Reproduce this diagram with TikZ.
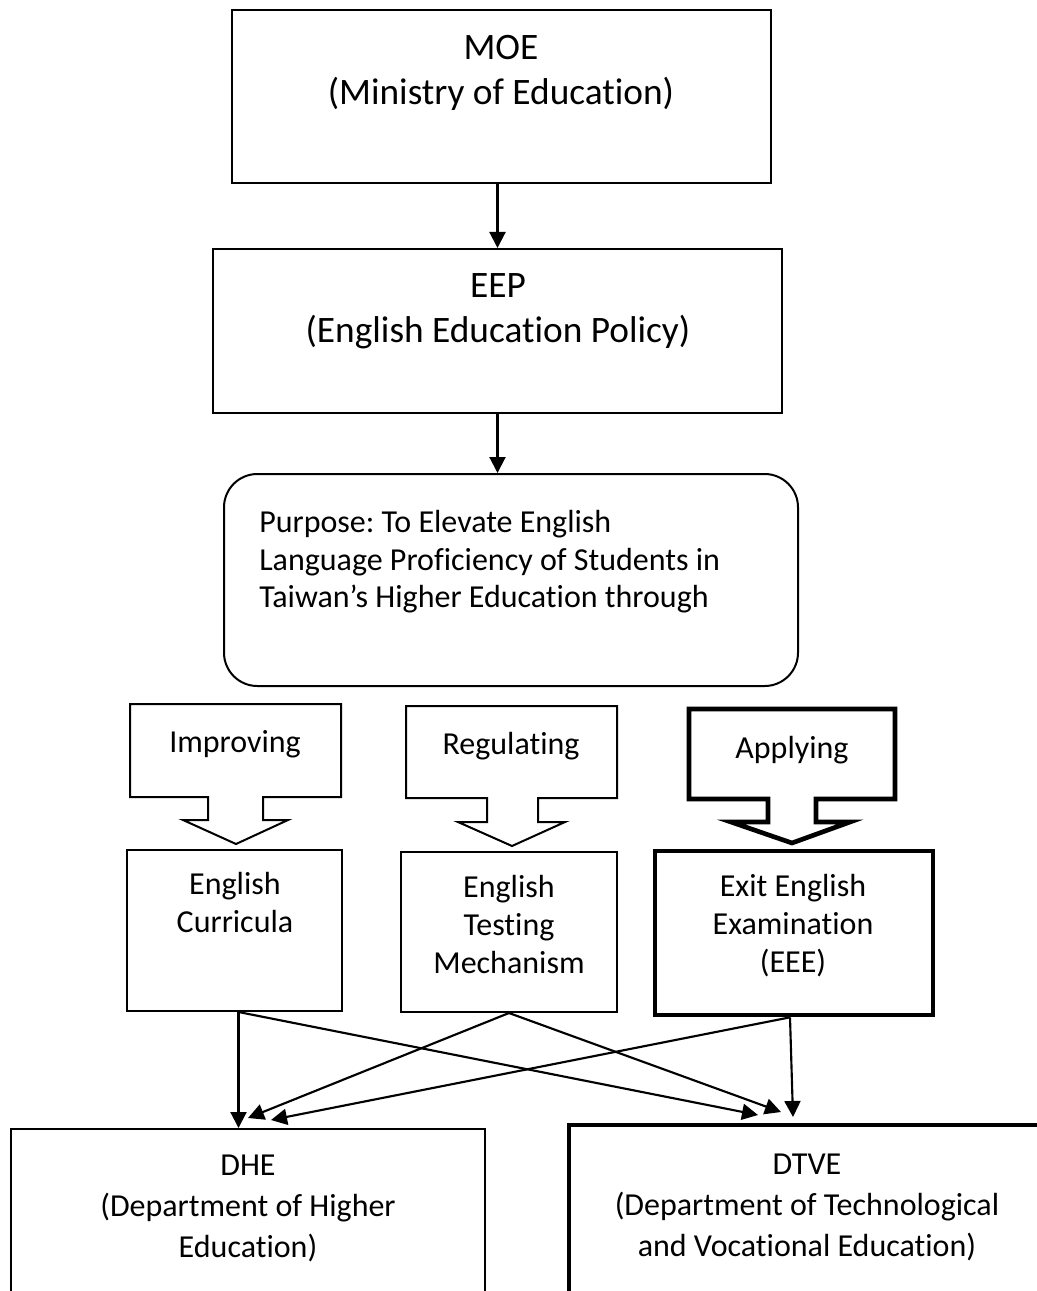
\documentclass[tikz,border=0pt]{standalone}
\usepackage{fontspec}
\setmainfont{Carlito}[Ligatures=NoCommon]
\usetikzlibrary{arrows.meta,calc,fit}
\begin{document}
\frenchspacing
\begin{tikzpicture}[x=0.75pt,y=-0.75pt,
  box/.style={draw, line width=1.5pt, inner sep=0pt},
  thickbox/.style={draw, line width=3.5pt, inner sep=0pt},
  conn/.style={line width=1.6pt, -{Triangle[length=12pt,width=12pt]}},
  callout/.style={draw, line width=1.5pt, line join=miter},
  thickcallout/.style={draw, line width=3.5pt, line join=miter},
  bigtxt/.style={font=\fontsize{28}{33.5}\selectfont, align=center, inner sep=0pt},
  midtxt/.style={font=\fontsize{24}{28.5}\selectfont, align=center, inner sep=0pt},
  bottxt/.style={font=\fontsize{24}{30.75}\selectfont, align=center, inner sep=0pt},
  purtxt/.style={font=\fontsize{24}{28.2}\selectfont, align=left, inner sep=0pt, anchor=west},
  caltxt/.style={font=\fontsize{24}{28}\selectfont, inner sep=0pt}
]
\clip (0,0) rectangle (1037,1291);
\fill[white] (0,0) rectangle (1037,1291);

% main boxes
\node[box, fit={(232,10) (771,183)}] (moe) {};
\node[box, fit={(213,249) (782,413)}] (eep) {};
\node[box, rounded corners=25pt, fit={(224,474) (798,686)}] (pur) {};
\node[box, fit={(127,850) (342,1011)}] (cur) {};
\node[box, fit={(401,852) (617,1012)}] (test) {};
\node[thickbox, fit={(655,851) (933,1015)}] (eee) {};
\node[box, fit={(11,1129) (485,1340)}] (dhe) {};
\node[thickbox, fit={(569,1125) (1047,1340)}] (dtve) {};

% texts
\node[bigtxt] (moet) at (501,73) {MOE\\(Ministry of Education)};
\node[bigtxt] (eept) at (498,311) {EEP\\(English Education Policy)};
\node[purtxt] (purt) at (259,562) {Purpose: To Elevate English\\Language Proficiency of Students in\\Taiwan’s Higher Education through};
\node[midtxt] (curt) at (235,902) {English\\Curricula};
\node[midtxt] (testt) at (509,924) {English\\Testing\\Mechanism};
\node[midtxt] (eeet) at (793,926) {Exit English\\Examination\\(EEE)};
\node[bottxt] (dhet) at (248,1208) {DHE\\(Department of Higher\\Education)};
\node[bottxt] (dtvet) at (807,1207) {DTVE\\(Department of Technological\\and Vocational Education)};

% callout arrows
\draw[callout] (130,704) -- (341,704) -- (341,797) -- (263,797) -- (263,820) -- (288,820) -- (236,844) -- (183,820) -- (208,820) -- (208,797) -- (130,797) -- cycle;
\node[caltxt] (imp) at (235,744) {Improving};
\draw[callout] (406,706) -- (617,706) -- (617,798) -- (538,798) -- (538,822) -- (565,822) -- (512,846) -- (458,822) -- (487,822) -- (487,798) -- (406,798) -- cycle;
\node[caltxt] (reg) at (511,746) {Regulating};
\draw[thickcallout] (689,709) -- (895,709) -- (895,799) -- (816,799) -- (816,822) -- (850,822) -- (792,843) -- (731,822) -- (768,822) -- (768,799) -- (689,799) -- cycle;
\node[caltxt] (app) at (792,750) {Applying};

% top connectors
\draw[conn] (moe.south -| eep.north) -- (eep.north);
\draw[conn] (eep.south) -- (eep.south |- pur.north);

% bottom connectors
\coordinate (cS) at ($(cur.south)+(4,0)$);
\coordinate (tS) at (test.south);
\coordinate (eS) at ($(eee.south)+(-4,0)$);
\coordinate (dA) at (cS |- dhe.north);
\coordinate (dB) at (248,1118);
\coordinate (dC) at (271,1120);
\coordinate (vA) at (758,1115);
\coordinate (vB) at (781,1112);
\coordinate (vC) at (793,1117);
\draw[conn] (cS) -- (dA);
\draw[conn] (cS) -- (vA);
\draw[conn] (tS) -- (dB);
\draw[conn] (tS) -- (vB);
\draw[conn] (eS) -- (dC);
\draw[conn] (eS) -- (vC);
\end{tikzpicture}
\end{document}
